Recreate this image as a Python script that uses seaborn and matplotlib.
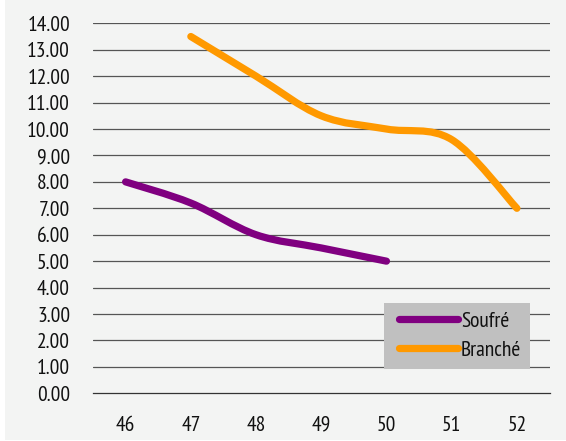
import numpy as np
import pandas as pd
import seaborn as sns
import matplotlib.pyplot as plt
from matplotlib.path import Path
from matplotlib.patches import PathPatch, Rectangle
from matplotlib.lines import Line2D
from matplotlib.legend_handler import HandlerLine2D

# Chart data
categories = ["46", "47", "48", "49", "50", "51", "52"]
soufre_cats = ["46", "47", "48", "49", "50"]
soufre_vals = [8.0, 7.2, 6.0, 5.5, 5.0]
branche_cats = ["47", "48", "49", "50", "51", "52"]
branche_vals = [13.5, 12.0, 10.5, 10.0, 9.6, 7.0]
series_names = ["Soufré", "Branché"]
series_colors = {"Soufré": "#800080", "Branché": "#ff9900"}
y_ticks = np.arange(0, 15, 1)

sns.set_theme(style="white")
plt.rcParams["font.family"] = ["PT Sans Narrow", "DejaVu Sans"]

pos = {c: i for i, c in enumerate(categories)}
df = pd.concat([
    pd.DataFrame({"series": "Soufré", "pos": [pos[c] for c in soufre_cats], "value": soufre_vals}),
    pd.DataFrame({"series": "Branché", "pos": [pos[c] for c in branche_cats], "value": branche_vals}),
], ignore_index=True)

fig = plt.figure(figsize=(5.66, 4.41), dpi=100)
fig.patch.set_facecolor("white")
fig.add_artist(Rectangle((5 / 566, 1 / 441), 1, 1, transform=fig.transFigure,
                         facecolor="#f3f4f3", edgecolor="none", zorder=-10))
ax = fig.add_axes([93 / 566, 1 - 393.3 / 441, 456.5 / 566, 370 / 441])
ax.set_facecolor("none")

sns.lineplot(data=df, x="pos", y="value", hue="series", hue_order=series_names,
             palette=series_colors, linewidth=5, legend=False, ax=ax)


def smooth_path(x, y, k=1 / 6):
    """Cubic Bezier path through the points (Catmull-Rom style tangents)."""
    pts = np.column_stack([x, y]).astype(float)
    n = len(pts)
    verts = [pts[0]]
    codes = [Path.MOVETO]
    for i in range(n - 1):
        p0 = pts[i - 1] if i > 0 else pts[i]
        p1, p2 = pts[i], pts[i + 1]
        p3 = pts[i + 2] if i + 2 < n else pts[i + 1]
        c1 = p1 + (p2 - p0) * k
        c2 = p2 - (p3 - p1) * k
        verts += [c1, c2, p2]
        codes += [Path.CURVE4] * 3
    return Path(verts, codes)


# Replace the straight segments with smoothed curves
for line in list(ax.lines):
    xd, yd = line.get_xdata(), line.get_ydata()
    patch = PathPatch(smooth_path(xd, yd), facecolor="none", edgecolor=line.get_color(),
                      linewidth=5.2, capstyle="round", joinstyle="round", zorder=3)
    ax.add_patch(patch)
    line.set_visible(False)

ax.set_xlim(-0.5, len(categories) - 0.5)
ax.set_ylim(0, 14)

# Horizontal gridlines
for v in y_ticks[1:]:
    ax.axhline(v, color="#555555", linewidth=0.9, zorder=1)

for s in ["top", "right", "left"]:
    ax.spines[s].set_visible(False)
ax.spines["bottom"].set_color("#333333")
ax.spines["bottom"].set_linewidth(0.9)

ax.set_yticks(y_ticks)
ax.set_yticklabels([f"{v:.2f}" for v in y_ticks])
ax.tick_params(axis="y", length=0, pad=16.5, labelsize=15.5, labelcolor="#111111")

# Tick marks between categories, labels at category centres
ax.set_xticks(np.arange(len(categories) + 1) - 0.5)
ax.set_xticklabels([])
ax.tick_params(axis="x", which="major", direction="out", length=5, width=0.9,
               color="#333333")
ax.set_xticks(np.arange(len(categories)), minor=True)
ax.set_xticklabels(categories, minor=True)
ax.tick_params(axis="x", which="minor", length=0, pad=16, labelsize=15.5,
               labelcolor="#111111")
ax.set_xlabel("")
ax.set_ylabel("")

handles = [Line2D([0], [0], color=series_colors[n], linewidth=5.2,
                  solid_capstyle="round") for n in series_names]
leg = ax.legend(handles, series_names, loc="upper left", bbox_to_anchor=(0.637, 0.245),
                frameon=True, fancybox=False, facecolor="#c0c0c0", edgecolor="none",
                framealpha=1, fontsize=15.5, handlelength=3.05, handletextpad=0.12,
                borderpad=0.42, labelspacing=0.45, borderaxespad=0,
                handler_map={Line2D: HandlerLine2D(xpad=0.3)})
for t in leg.get_texts():
    t.set_color("#111111")

fig.savefig("out.png", dpi=100)
